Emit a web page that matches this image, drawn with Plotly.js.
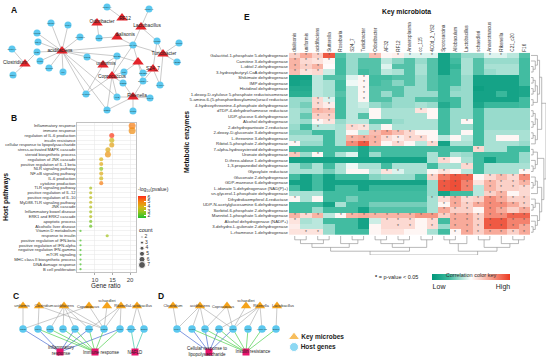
<!DOCTYPE html>
<html><head><meta charset="utf-8">
<script src="https://cdn.plot.ly/plotly-3.0.1.min.js"></script>
<style>html,body{margin:0;padding:0;background:#fff}#chart{width:550px;height:364px}</style>
</head><body><div id="chart"></div>
<script>
// ================= DATA =================
// Panel E: correlation heatmap
const microbiota = ['dialisonis','uniformis','acidifaciens','Sutterella','Roseburia','S24_7','Turicibacter','Odoribacter','AF32','RF12','Anaeroplasma','cc_115','4C0d_2_YS2','Sporosarcina','Allobaculum','Lactobacillus','schaedleri','Anaerotruncus','Rikenella','C21_c20','F16'];
const enzymes = ['Galactitol-1-phosphate 5-dehydrogenase','Carnitine 3-dehydrogenase','L-iditol 2-dehydrogenase','3-hydroxybutyryl-CoA dehydrogenase','Shikimate dehydrogenase','IMP dehydrogenase','Histidinol dehydrogenase','1-deoxy-D-xylulose 5-phosphate reductoisomerase','5-amino-6-(5-phosphoribosylamino)uracil reductase','4-hydroxythreonine-4-phosphate dehydrogenase','dTDP-4-dehydrorhamnose reductase','UDP-glucose 6-dehydrogenase','Alcohol dehydrogenase','2-dehydropantoate 2-reductase','2-deoxy-D-gluconate 3-dehydrogenase','L-threonine 3-dehydrogenase','Ribitol-5-phosphate 2-dehydrogenase','7-alpha-hydroxysteroid dehydrogenase','Uronate dehydrogenase','D-threo-aldose 1-dehydrogenase','1,3-propanediol dehydrogenase','Glyoxylate reductase','Gluconate 2-dehydrogenase','GDP-mannose 6-dehydrogenase','L-idonate 5-dehydrogenase (NAD(P)+)','sn-glycerol-1-phosphate dehydrogenase','Dihydrokaempferol 4-reductase','UDP-N-acetylglucosamine 6-dehydrogenase','Sorbitol-6-phosphate 2-dehydrogenase','Mannitol-1-phosphate 5-dehydrogenase','Alcohol dehydrogenase (NADP+)','3-dehydro-L-gulonate 2-dehydrogenase','L-rhamnose 1-dehydrogenase'];
const correlation = [
 [0.25,0.45,0.25,0.85,-0.5,-0.3,-0.3,0.35,0.05,0.08,-0.1,-0.1,-0.1,-0.85,-0.5,-0.3,-0.3,-0.1,-0.1,-0.2,-0.5],
 [0.4,0.2,0.15,0.05,-0.55,-0.3,-0.5,-0.5,-0.2,-0.35,-0.5,-0.3,-0.5,-0.85,-0.55,-0.25,-0.5,-0.3,-0.3,-0.3,-0.55],
 [0.4,0.25,0.4,0.02,-0.55,-0.3,-0.5,-0.5,-0.1,-0.5,-0.5,-0.25,-0.5,-0.85,-0.65,-0.25,-0.5,-0.25,-0.25,-0.25,-0.55],
 [0.35,0.15,0.2,-0.15,-0.55,-0.3,-0.55,-0.5,-0.2,-0.25,-0.5,-0.25,-0.5,-0.85,-0.55,-0.25,-0.5,-0.3,-0.25,-0.25,-0.55],
 [-0.85,-0.85,-0.2,-0.5,-0.5,-0.1,0.05,-0.55,-0.55,-0.5,-0.5,-0.3,-0.5,-0.6,-0.55,-0.3,-0.85,-0.85,-0.85,-0.85,-0.55],
 [-0.85,-0.8,-0.2,-0.25,-0.55,-0.05,0.05,-0.55,-0.5,-0.35,-0.5,-0.3,-0.5,-0.6,-0.55,-0.3,-0.85,-0.85,-0.85,-0.85,-0.55],
 [-0.75,-0.75,-0.2,-0.25,-0.55,-0.2,0.05,-0.5,-0.5,-0.5,-0.3,-0.3,-0.5,-0.6,-0.35,-0.3,-0.9,-0.85,-0.85,-0.85,-0.8],
 [-0.7,-0.7,-0.2,-0.25,-0.5,-0.2,0.05,-0.5,-0.3,-0.5,-0.3,-0.3,-0.3,-0.6,-0.3,-0.3,-0.85,-0.85,-0.6,-0.85,-0.8],
 [-0.3,-0.3,0.2,-0.1,-0.55,-0.2,0.05,-0.5,-0.5,-0.3,-0.3,-0.5,-0.5,-0.6,-0.55,-0.3,-0.85,-0.85,-0.85,-0.85,-0.55],
 [-0.3,-0.4,0.2,0.1,-0.55,-0.2,-0.15,-0.3,-0.4,-0.3,-0.3,-0.25,-0.3,-0.75,-0.55,-0.3,-0.8,-0.6,-0.6,-0.6,-0.55],
 [-0.25,-0.3,0.4,0.35,-0.55,-0.2,-0.2,0.05,-0.25,-0.25,-0.25,0.15,0.05,-0.55,-0.3,-0.3,-0.55,-0.3,-0.3,-0.3,-0.3],
 [-0.25,-0.45,0.25,0.25,-0.55,-0.2,-0.5,0.05,-0.25,-0.25,-0.25,-0.25,0.05,-0.55,-0.3,-0.3,-0.55,-0.3,-0.3,-0.3,-0.3],
 [-0.25,-0.3,0.05,0.15,-0.3,-0.2,-0.2,-0.5,-0.5,-0.3,-0.25,-0.25,-0.25,-0.55,-0.3,0.05,-0.55,-0.3,-0.3,-0.3,-0.3],
 [-0.3,-0.55,-0.2,-0.2,-0.25,0.2,0.15,-0.25,0.05,-0.25,-0.25,-0.25,-0.25,-0.55,-0.3,-0.3,-0.55,-0.3,-0.3,-0.3,-0.3],
 [-0.35,-0.35,-0.55,-0.55,-0.25,0.05,-0.2,0.35,0.5,0.35,0.2,0.05,0.05,-0.55,-0.3,0.05,-0.55,-0.25,-0.25,-0.25,-0.25],
 [-0.25,-0.25,-0.25,-0.55,-0.25,0.4,0.45,0.4,0.2,0.1,0.2,0.2,0.05,-0.2,0.05,-0.2,-0.55,-0.25,0.05,0.05,-0.25],
 [0.05,-0.3,-0.3,-0.55,-0.25,0.6,0.85,0.4,0.05,0.2,0.05,-0.2,0.2,-0.85,-0.25,-0.25,-0.55,-0.25,-0.25,-0.25,-0.3],
 [-0.55,-0.55,-0.55,-0.55,-0.55,-0.55,-0.8,-0.55,-0.55,-0.55,-0.55,-0.55,-0.55,-0.55,-0.55,-0.55,0.2,-0.25,-0.25,-0.55,-0.55],
 [0.3,-0.3,0.05,-0.55,-0.25,-0.1,-0.8,-0.3,-0.55,-0.55,-0.55,-0.55,-0.25,-0.55,-0.25,-0.3,-0.55,-0.55,-0.55,-0.55,-0.3],
 [-0.85,-0.85,-0.85,-0.85,-0.85,-0.85,-0.85,-0.85,-0.85,-0.85,-0.85,-0.85,-0.25,0.2,0.05,-0.25,-0.55,-0.85,-0.55,-0.55,-0.3],
 [-0.25,-0.45,-0.25,-0.55,-0.25,-0.05,-0.25,-0.25,-0.55,-0.25,-0.25,-0.25,-0.55,-0.25,-0.25,0.2,-0.55,-0.25,-0.25,-0.25,-0.25],
 [-0.25,-0.25,-0.25,-0.4,-0.25,0.05,0.05,-0.2,0.15,-0.1,-0.25,-0.25,0.05,0.15,0.05,-0.2,-0.55,-0.25,-0.25,-0.25,0.05],
 [-0.55,-0.85,-0.55,-0.85,-0.55,-0.55,-0.55,-0.35,-0.3,-0.3,-0.3,-0.55,0.25,0.7,0.85,0.8,0.05,0.2,0.35,0.2,0.6],
 [-0.85,-0.85,-0.55,-0.85,-0.85,-0.85,-0.85,-0.85,-0.85,-0.85,-0.85,-0.85,-0.3,0.85,0.9,0.65,0.15,0.4,0.25,0.25,0.4],
 [-0.55,-0.85,-0.55,-0.85,-0.55,-0.55,-0.85,-0.6,-0.6,-0.6,-0.6,-0.6,-0.3,0.85,0.9,0.65,-0.2,0.4,0.25,0.25,0.2],
 [-0.25,-0.25,-0.25,-0.55,-0.55,-0.55,-0.55,-0.55,-0.55,-0.55,-0.55,-0.55,-0.3,-0.85,-0.55,-0.55,-0.2,0.25,0.4,0.05,0.2],
 [0.05,-0.25,0.05,-0.55,-0.55,-0.4,-0.55,-0.55,-0.55,-0.55,-0.55,-0.55,-0.25,0.2,0.45,0.2,0.25,0.6,0.45,0.25,0.25],
 [-0.55,-0.55,-0.55,-0.85,-0.25,-0.55,-0.55,-0.4,-0.4,-0.4,-0.4,-0.4,-0.25,0.05,0.45,0.25,0.45,0.6,0.6,0.45,0.25],
 [-0.55,-0.55,-0.3,-0.55,-0.55,-0.55,-0.85,-0.5,-0.5,-0.5,-0.5,-0.5,-0.25,0.45,0.25,0.25,0.05,0.6,0.45,0.25,0.45],
 [0.4,0.2,0.4,-0.2,0.05,0.4,0.45,0.4,0.4,0.4,0.4,0.55,0.55,0.25,0.45,0.45,0.25,0.6,0.6,0.8,0.8],
 [0.15,-0.25,-0.2,-0.55,-0.55,-0.55,-0.85,-0.15,0.2,0.2,0.2,0.05,0.2,-0.55,0.45,0.45,0.25,0.85,0.85,0.65,0.65],
 [0.1,-0.2,-0.2,-0.3,-0.55,-0.55,-0.85,0.05,0.2,0.2,0.2,0.05,0.2,-0.3,0.45,0.45,0.25,0.85,0.85,0.65,0.45],
 [0.15,0.15,0.15,-0.3,-0.55,-0.55,-0.55,0.05,0.15,0.15,0.05,0.05,-0.25,-0.55,0.05,0.45,0.25,0.45,0.45,0.25,0.45]
];
const significant = ['111100010111100001100','111100000000000000000','111000000000000000000','111000000000000000000','000000100000000000000','000000100000000000000','000000100000000000000','000000100000000000000','001100100000000000000','001100000000000000000','001100000001000000000','001100000000000000000','001100000000000100000','001001100000000000000','000000011110000000000','000001111111000000000','100001110100100000000','000000000000000010000','101000000000000000000','000000000000010000000','000000000000000100000','000000001100010000001','000000000000111101111','000000000000011101111','000000000000011101111','000000000000000001100','100000000000111111111','000000000000011111111','000000000000011101101','111011111111111111111','100000001110101111111','000000000110101111111','011000000000001111111'];
const colTree = [[[[[0,1],[2,3]],[4,[5,6]]],[[[7,8],[9,10]],[11,12]]],[[[13,14],15],[[16,17],[18,[19,20]]]]];
const rowTree = [[[[0,[1,[2,3]]],[[[4,5],[6,7]],[8,9]]],[[[10,11],[12,13]],[[14,15],16]]],[[[17,18],[19,[20,21]]],[[[22,[23,24]],25],[[26,[27,28]],[29,[30,[31,32]]]]]]];

// Panel B: enrichment dot plot
const pathways = ['Inflammatory response','immune response','regulation of IL-6 production','insulin resistance','cellular response to lipopolysaccharide','stress-activated MAPK cascade','steroid biosynthetic process','regulation of JNK cascade','positive regulation of IL-1 beta','NLR signaling pathway','NF-κB signaling pathway','IL-6 production','cytokine production','TLR signaling pathway','positive regulation of IL-12','positive regulation of IL-10','MyD88-TLR signaling pathway','JNK cascade','Inflammatory bowel disease','ERK1 and ERK2 cascade','apoptotic process','Alcoholic liver disease','Vitamin D metabolism','response to insulin','positive regulation of IFN-beta','positive regulation of IFN-alpha','negative regulation IFN-gamma','mTOR signaling','MHC class II biosynthetic process','DNA damage response','B cell proliferation'];
const geneRatio = [20.6,20.6,14.8,14.8,14.8,13.7,13.7,11.8,11.8,11.8,11.8,11.8,11.8,8.8,8.8,8.8,8.8,8.8,8.8,8.8,8.8,8.8,5.9,13.5,5.9,5.9,5.9,5.9,5.9,5.9,5.9];
const geneCount = [7,7,5,5,5,5,6,4,4,4,4,4,4,3,3,3,3,3,3,3,3,3,2,3,2,2,2,2,2,2,2];
const negLogP = [5.1,4.8,6.0,3.7,4.3,4.1,4.6,3.9,4.2,2.8,4.1,3.7,5.1,3.1,3.4,3.4,3.5,3.2,3.0,3.3,2.5,2.3,2.0,3.0,1.9,1.9,1.9,1.9,1.9,1.9,1.9];
const countLevels = [2,3,4,5,6,7];

// Panel A: network
const aMicrobes = ['acidifaciens','Clostridium','Odoribacter','RF12','Lactobacillus','dialisonis','Turicibacter','uniformis','Sutterella','S24_7','Coprococcus','Rikenella'];
const aMicrobeShown = [1,1,1,1,1,1,1,1,0,1,1,1];
const aGenes = ['SLC6A4','SLC1A1','KDM5A','TLR4','MUC2','CHRDL1','NOD2','CD44','MTOR','MUC1','PPARG','SLC7A1','IRS1','TLR5','CCL2','NFKB1','ABCB1','NLRP3','CD8A','IL6','TNF','SOCS3','NOS2','MAPK8','CHRM1','KLB','NOX1','NOD1','TLR2','SLC39A1'];
const aEdges = [['acidifaciens','KDM5A'],['acidifaciens','TLR4'],['acidifaciens','MUC2'],['acidifaciens','CHRDL1'],['acidifaciens','CD44'],['acidifaciens','IRS1'],['acidifaciens','TLR5'],['acidifaciens','CCL2'],['acidifaciens','NLRP3'],['acidifaciens','IL6'],['acidifaciens','CHRM1'],['acidifaciens','NOD1'],['acidifaciens','PPARG'],['acidifaciens','NFKB1'],['acidifaciens','KLB'],
 ['Clostridium','SLC7A1'],['Clostridium','CD8A'],['Clostridium','IRS1'],['Odoribacter','NOD2'],['RF12','SLC6A4'],['Lactobacillus','SLC1A1'],['Lactobacillus','PPARG'],['Lactobacillus','MTOR'],['dialisonis','NOD2'],['dialisonis','PPARG'],
 ['Turicibacter','MUC1'],['Turicibacter','ABCB1'],['Turicibacter','PPARG'],['Turicibacter','MAPK8'],['Turicibacter','MTOR'],['uniformis','CCL2'],['uniformis','NFKB1'],['uniformis','CHRM1'],
 ['Sutterella','PPARG'],['Sutterella','TNF'],['Sutterella','SOCS3'],['Sutterella','SLC39A1'],['Sutterella','NFKB1'],['S24_7','SOCS3'],['S24_7','MAPK8'],['S24_7','SLC39A1'],['S24_7','MTOR'],
 ['Coprococcus','NFKB1'],['Coprococcus','TNF'],['Coprococcus','NOS2'],['Coprococcus','KLB'],['Coprococcus','NOD1'],['Coprococcus','CHRM1'],['Coprococcus','PPARG'],
 ['Rikenella','KLB'],['Rikenella','NOX1'],['Rikenella','NOD1'],['Rikenella','TLR2'],['Rikenella','NOS2'],['Rikenella','SLC39A1']];

// Panel C: tripartite network
const cMicrobes = ['uniformis','Clostridium','acidifaciens','Coprococcus','schaedleri','Rikenella','Lactobacillus'];
const cGenes = ['CD36','CD14','NOS2','TLR4','TLR2','NLRP3','NOD2','TLR5','MOGAT2','SIRT1'];
const cPaths = ['Inflammatory response','Immune response','NAFLD'];
const cEdgesMG = [['uniformis','CD36'],['Clostridium','CD14'],['Clostridium','NOD2'],['acidifaciens','NOS2'],['acidifaciens','TLR4'],['acidifaciens','TLR2'],['acidifaciens','NLRP3'],['acidifaciens','NOD2'],['Coprococcus','CD36'],['Coprococcus','NOD2'],['schaedleri','NOD2'],['Rikenella','NLRP3'],['Rikenella','NOD2'],['Rikenella','TLR5'],['Lactobacillus','MOGAT2'],['Lactobacillus','SIRT1']];
const cEdgesGP = [['CD36','Inflammatory response'],['CD14','Inflammatory response'],['TLR2','Inflammatory response'],['NLRP3','Inflammatory response'],['TLR5','Inflammatory response'],['NOS2','Immune response'],['TLR4','Immune response'],['TLR2','Immune response'],['NLRP3','Immune response'],['NOD2','Immune response'],['TLR5','Immune response'],['CD14','Immune response'],['MOGAT2','NAFLD'],['SIRT1','NAFLD']];

// Panel D: tripartite network
const dMicrobes = ['Clostridium','acidifaciens','Coprococcus','schaedleri','Rikenella','Lactobacillus'];
const dGenes = ['TLR4','TLR2','CD14','NLRP3','NOD2','TLR5','MOGAT2','SIRT1'];
const dPaths = ['Cellular response to lipopolysaccharide','Insulin resistance'];
const dEdgesMG = [['Clostridium','TLR4'],['acidifaciens','TLR4'],['acidifaciens','TLR2'],['acidifaciens','CD14'],['acidifaciens','NOD2'],['Coprococcus','CD14'],['Coprococcus','NOD2'],['schaedleri','NOD2'],['Rikenella','NOD2'],['Rikenella','NLRP3'],['Rikenella','TLR5'],['Rikenella','MOGAT2'],['Lactobacillus','SIRT1']];
const dEdgesGP = [['TLR4','Cellular response to lipopolysaccharide'],['TLR2','Cellular response to lipopolysaccharide'],['CD14','Cellular response to lipopolysaccharide'],['NLRP3','Cellular response to lipopolysaccharide'],['NOD2','Cellular response to lipopolysaccharide'],['TLR2','Insulin resistance'],['CD14','Insulin resistance'],['NLRP3','Insulin resistance'],['NOD2','Insulin resistance'],['TLR5','Insulin resistance'],['MOGAT2','Insulin resistance'],['SIRT1','Insulin resistance']];

// ================= LAYOUT (node placement, label offsets, styles) =================
const W = 550, H = 364;
const px = v => v / W, py = v => 1 - v / H;
const FONT = 'Liberation Sans, Arial, Helvetica, sans-serif';

const aMicrobePos = {acidifaciens:[62,51],Clostridium:[25,64],Odoribacter:[97,23],RF12:[122,18],Lactobacillus:[141,27],dialisonis:[117,37],Turicibacter:[163,54],uniformis:[103,65],Sutterella:[138,62],S24_7:[153,69],Coprococcus:[112,76],Rikenella:[133,97]};
const aLabelOff = {acidifaciens:[-2,0],Clostridium:[-10,-1],Odoribacter:[5,-1],RF12:[3,1],Lactobacillus:[6,-1],dialisonis:[8,-2],Turicibacter:[1,0],uniformis:[3,-1],Sutterella:[0,0],S24_7:[0,0],Coprococcus:[0,1],Rikenella:[4,-1]};
const aGenePos = {SLC6A4:[107,7],SLC1A1:[149,9],KDM5A:[51,23],TLR4:[68,25],MUC2:[37,33],CHRDL1:[80,37],NOD2:[99,38],CD44:[38,42],MTOR:[157,41],MUC1:[179,43],PPARG:[133,45],SLC7A1:[12,49],IRS1:[37,52],TLR5:[40,61],CCL2:[87,57],NFKB1:[117,56],ABCB1:[177,62],NLRP3:[49,68],CD8A:[13,75],IL6:[63,72],TNF:[124,72],SOCS3:[143,73],NOS2:[123,83],MAPK8:[160,85],CHRM1:[86,94],KLB:[117,97],NOX1:[150,98],NOD1:[107,110],TLR2:[133,111],SLC39A1:[143,81]};
const cMicX = [23,39,64,89,107,121,137], cGeneX = [23,38,50,63,75,89,104,120,131,144], cPathX = [60,95,135];
const cMicOff = [[-1,0],[5,0],[0,0],[-1,1],[0,-5],[1,0],[4,0]], cPathOff = [[1,-1],[6,1],[0,1]];
const dMicX = [173,200,227,246,260,277], dGeneX = [177,192,205,219,233,248,262,276], dPathX = [209,246];
const dMicOff = [[0,0],[0,0],[-4,1],[0,-5],[1,0],[6,0]], dPathOff = [[-2,0],[7,0]];
const tierY = [306, 329, 352];
const cPathColors = ['#4a6bd1','#4fd04f','#3cc8a8'];
const dPathColors = ['#4a6bd1','#4fd04f'];
const RED = '#e3242b', ORANGE = '#f5a31a', BLUE = '#5cc8ef', PINK = '#e8136c', EDGE = '#a6a6a6';

const traces = [];

// ---------- Heatmap E ----------
const starText = significant.map(s => s.split('').map(c => c === '1' ? '*' : ''));
traces.push({
  type:'heatmap', x:microbiota, y:enzymes, z:correlation, zmin:-1, zmax:1,
  xaxis:'x', yaxis:'y', text:starText, texttemplate:'%{text}',
  textfont:{size:5, color:'#555', family:FONT}, hoverinfo:'skip',
  colorscale:[[0,'#00977a'],[0.22,'#3fbb9f'],[0.5,'#ffffff'],[0.75,'#f7a18f'],[1,'#ec3a22']],
  colorbar:{orientation:'h', x:px(471), xanchor:'center', y:py(278), yanchor:'middle',
    len:78/W, lenmode:'fraction', thickness:6, thicknessmode:'pixels', xpad:0, ypad:0,
    outlinewidth:0, tickmode:'array', tickvals:[-0.82,0.82], ticktext:['Low','High'], ticks:'',
    tickfont:{size:7, color:'#222', family:FONT},
    title:{text:'Correlation color key', side:'top', font:{size:5.5, color:'#333', family:FONT}}}
});

// dendrograms from tree topology
function dendro(tree){
  const a = [], h = [];
  function walk(node){
    if (typeof node === 'number') return {pos:node, h:0};
    const l = walk(node[0]), r = walk(node[1]);
    const hh = Math.max(l.h, r.h) + 1;
    a.push(l.pos, l.pos, r.pos, r.pos, null);
    h.push(l.h, hh, hh, r.h, null);
    return {pos:(l.pos + r.pos) / 2, h:hh};
  }
  const root = walk(tree);
  return {a, h, hmax:root.h};
}
const cd = dendro(colTree), rd = dendro(rowTree);
traces.push({type:'scatter', mode:'lines', x:cd.a, y:cd.h, xaxis:'x4', yaxis:'y4', line:{color:'#8a8a8a', width:0.6}, hoverinfo:'skip'});
traces.push({type:'scatter', mode:'lines', x:rd.h, y:rd.a, xaxis:'x5', yaxis:'y5', line:{color:'#8a8a8a', width:0.6}, hoverinfo:'skip'});

// ---------- Dot plot B ----------
const sz = c => c * 0.95 + 0.3;
traces.push({
  type:'scatter', mode:'markers', x:geneRatio, y:pathways, xaxis:'x3', yaxis:'y3', hoverinfo:'skip',
  marker:{size:geneCount.map(sz), color:negLogP, cmin:1.5, cmax:6.2, line:{width:0},
    colorscale:[[0,'#22c02a'],[0.3,'#9cc41e'],[0.5,'#d8b515'],[0.75,'#f5820f'],[1,'#ff2a1a']],
    colorbar:{x:px(138), xanchor:'left', y:py(201), yanchor:'middle', len:34/H, lenmode:'fraction',
      thickness:8, thicknessmode:'pixels', xpad:0, ypad:0, outlinewidth:0,
      tickvals:[2,3,4,5,6], ticks:'inside', ticklen:2, tickcolor:'#fff',
      tickfont:{size:5, color:'#333', family:FONT},
      title:{text:'-log<sub>10</sub>(pvalue)', side:'top', font:{size:5, color:'#333', family:FONT}}}}
});
// count legend
traces.push({
  type:'scatter', mode:'markers+text', xaxis:'x2', yaxis:'y2', hoverinfo:'skip',
  x:countLevels.map(() => 142), y:countLevels.map((c, i) => 237 + i * 5.6),
  marker:{size:countLevels.map(sz), color:'#111'}, text:countLevels.map(String),
  textposition:'middle right', textfont:{size:5, color:'#333', family:FONT}
});

// ---------- Networks ----------
function lines(pairs, getA, getB){
  const x = [], y = [];
  pairs.forEach(([a, b]) => { const p = getA(a), q = getB(b); x.push(p[0], q[0], null); y.push(p[1], q[1], null); });
  return {x, y};
}
function edgeTrace(e, color, w){ return {type:'scatter', mode:'lines', x:e.x, y:e.y, xaxis:'x2', yaxis:'y2', line:{color, width:w}, hoverinfo:'skip'}; }
function nodeTrace(xs, ys, symbol, size, color){
  return {type:'scatter', mode:'markers', x:xs, y:ys, xaxis:'x2', yaxis:'y2', hoverinfo:'skip',
    marker:{symbol, size, color, line:{width:0}}, cliponaxis:false};
}
function labelTrace(xs, ys, labels, fsize, fcolor){
  return {type:'scatter', mode:'text', x:xs, y:ys, xaxis:'x2', yaxis:'y2', hoverinfo:'skip', text:labels,
    textposition:'middle center', textfont:{size:fsize, color:fcolor, family:FONT}, cliponaxis:false};
}
const wrap = s => s.length > 18 ? s.slice(0, s.lastIndexOf(' ')) + '<br>' + s.slice(s.lastIndexOf(' ') + 1) : s;

// Panel A
traces.push(edgeTrace(lines(aEdges, m => aMicrobePos[m], g => aGenePos[g]), EDGE, 0.6));
traces.push(nodeTrace(aGenes.map(g => aGenePos[g][0]), aGenes.map(g => aGenePos[g][1]), 'circle', 7, BLUE));
traces.push(labelTrace(aGenes.map(g => aGenePos[g][0]), aGenes.map(g => aGenePos[g][1]), aGenes, 2.4, '#244'));
traces.push(nodeTrace(aMicrobes.map(m => aMicrobePos[m][0]), aMicrobes.map(m => aMicrobePos[m][1]), 'triangle-up', 10, RED));
const aShown = aMicrobes.filter((m, i) => aMicrobeShown[i]);
traces.push(labelTrace(aShown.map(m => aMicrobePos[m][0] + aLabelOff[m][0]), aShown.map(m => aMicrobePos[m][1] + aLabelOff[m][1]), aShown, 4.8, '#222'));

// Panels C & D
function tripartite(mic, micX, micOff, genes, geneX, paths, pathX, pathOff, eMG, eGP, colors){
  const mp = m => [micX[mic.indexOf(m)], tierY[0]];
  const gp = g => [geneX[genes.indexOf(g)], tierY[1]];
  const pp = p => [pathX[paths.indexOf(p)], tierY[2]];
  traces.push(edgeTrace(lines(eMG, mp, gp), EDGE, 0.6));
  paths.forEach((p, k) => traces.push(edgeTrace(lines(eGP.filter(e => e[1] === p), gp, pp), colors[k], 0.7)));
  traces.push(nodeTrace(geneX, genes.map(() => tierY[1]), 'circle', 7.5, BLUE));
  traces.push(labelTrace(geneX, genes.map(() => tierY[1]), genes, 2.4, '#244'));
  traces.push(nodeTrace(micX, mic.map(() => tierY[0]), 'triangle-up', 9, ORANGE));
  traces.push(labelTrace(micX.map((x, i) => x + micOff[i][0]), mic.map((m, i) => tierY[0] + micOff[i][1]), mic, 3.8, '#333'));
  traces.push(nodeTrace(pathX, paths.map(() => tierY[2]), 'square', 7, PINK));
  traces.push(labelTrace(pathX.map((x, i) => x + pathOff[i][0]), paths.map((p, i) => tierY[2] + pathOff[i][1]), paths.map(wrap), 4.5, '#222'));
}
tripartite(cMicrobes, cMicX, cMicOff, cGenes, cGeneX, cPaths, cPathX, cPathOff, cEdgesMG, cEdgesGP, cPathColors);
tripartite(dMicrobes, dMicX, dMicOff, dGenes, dGeneX, dPaths, dPathX, dPathOff, dEdgesMG, dEdgesGP, dPathColors);

// legend for networks
traces.push({type:'scatter', mode:'markers+text', xaxis:'x2', yaxis:'y2', hoverinfo:'skip',
  x:[294, 294], y:[337, 347], marker:{symbol:['triangle-up','circle'], size:[10, 9], color:[ORANGE, BLUE]},
  text:['<b>Key microbes</b>','<b>Host genes</b>'], textposition:'middle right',
  textfont:{size:6.5, color:'#222', family:FONT}});

// ================= LAYOUT =================
function ann(text, x, y, o){ return Object.assign({text, x:px(x), y:py(y), xref:'paper', yref:'paper', showarrow:false,
  xanchor:'center', yanchor:'middle', font:{size:7, color:'#111', family:FONT}}, o || {}); }
const hidden = {visible:false, fixedrange:true};
const layout = {
  width:W, height:H, margin:{l:0, r:0, t:0, b:0}, paper_bgcolor:'#fff', plot_bgcolor:'rgba(0,0,0,0)',
  showlegend:false, font:{family:FONT, color:'#222'},
  xaxis:{domain:[px(289), px(530)], side:'top', tickangle:-90, tickmode:'array', tickvals:microbiota, ticktext:microbiota,
    tickfont:{size:4.6, color:'#333'}, ticks:'', showgrid:false, zeroline:false, showline:false, anchor:'y', fixedrange:true},
  yaxis:{domain:[py(235), py(52.7)], range:[32.5, -0.5], tickmode:'array', tickvals:enzymes, ticktext:enzymes,
    tickfont:{size:4.3, color:'#333'}, ticks:'', showgrid:false, zeroline:false, showline:false, anchor:'x', fixedrange:true},
  xaxis2:Object.assign({domain:[0, 1], range:[0, W], anchor:'y2'}, hidden),
  yaxis2:Object.assign({domain:[0, 1], range:[H, 0], anchor:'x2'}, hidden),
  xaxis3:{domain:[px(77), px(136)], range:[4.9, 21.7], tickvals:[10, 15, 20], tickfont:{size:6, color:'#444'},
    ticks:'outside', ticklen:2, tickcolor:'#555', tickwidth:0.5, showgrid:true, gridcolor:'#e6e6e6', gridwidth:0.5,
    showline:true, mirror:true, linecolor:'#9a9a9a', linewidth:0.6, zeroline:false, anchor:'y3', fixedrange:true},
  yaxis3:{domain:[py(272), py(123)], range:[30.6, -0.6], tickmode:'array', tickvals:pathways, ticktext:pathways,
    tickfont:{size:4.1, color:'#333'}, ticks:'', showgrid:true, gridcolor:'#e6e6e6', gridwidth:0.5,
    showline:true, mirror:true, linecolor:'#9a9a9a', linewidth:0.6, zeroline:false, anchor:'x3', fixedrange:true},
  xaxis4:Object.assign({domain:[px(289), px(530)], range:[-0.5, 20.5], anchor:'y4'}, hidden),
  yaxis4:Object.assign({domain:[py(255), py(236)], range:[cd.hmax, 0], anchor:'x4'}, hidden),
  xaxis5:Object.assign({domain:[px(531), px(546)], range:[0, rd.hmax], anchor:'y5'}, hidden),
  yaxis5:Object.assign({domain:[py(235), py(52.7)], range:[32.5, -0.5], anchor:'x5'}, hidden),
  annotations:[
    ann('<b>A</b>', 14, 10, {font:{size:8.5, color:'#111', family:FONT}}),
    ann('<b>B</b>', 14, 118, {font:{size:8.5, color:'#111', family:FONT}}),
    ann('<b>C</b>', 16, 296, {font:{size:8.5, color:'#111', family:FONT}}),
    ann('<b>D</b>', 161, 296, {font:{size:8.5, color:'#111', family:FONT}}),
    ann('<b>E</b>', 247, 17, {font:{size:8.5, color:'#111', family:FONT}}),
    ann('<b>Key microbiota</b>', 406, 12, {font:{size:6.8, color:'#111', family:FONT}}),
    ann('<b>Metabolic enzymes</b>', 187, 142, {textangle:-90, font:{size:6.8, color:'#111', family:FONT}}),
    ann('<b>Host pathways</b>', 6, 197, {textangle:-90, font:{size:6.8, color:'#111', family:FONT}}),
    ann('Gene ratio', 106, 285, {font:{size:6.3, color:'#222', family:FONT}}),
    ann('count', 137, 230, {xanchor:'left', font:{size:5.5, color:'#222', family:FONT}}),
    ann('<b>*</b> = p-value < 0.05', 373, 277, {xanchor:'left', font:{size:5.5, color:'#222', family:FONT}})
  ]
};
Plotly.newPlot('chart', traces, layout, {staticPlot:true, displayModeBar:false});
</script></body></html>
